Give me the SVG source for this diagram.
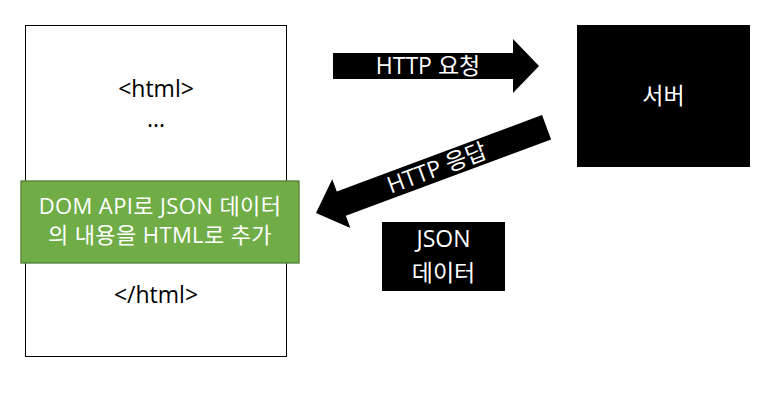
<svg xmlns="http://www.w3.org/2000/svg" width="780" height="402" viewBox="0 0 780 402">
  <style>
    text { font-family: "Open Sans", "Noto Sans CJK KR", sans-serif; font-size: 23px; text-anchor: middle; }
    .dark { fill: #000000; }
    .light { fill: #ffffff; }
    .green-text { font-size: 22px; letter-spacing: 0.4px; }
    .arrow { fill: #000000; }
  </style>
  <rect x="0" y="0" width="780" height="402" fill="#ffffff"/>
  <g id="page">
    <rect x="25.5" y="25.5" width="261" height="331" fill="#ffffff" stroke="#000000" stroke-width="1"/>
    <text class="dark" x="156" y="97">&lt;html&gt;</text>
    <text class="dark" x="156" y="127">...</text>
    <text class="dark" x="156" y="303">&lt;/html&gt;</text>
  </g>
  <g id="dom-api">
    <rect x="21" y="181" width="278" height="82" fill="#70AD47" stroke="#507E32" stroke-width="1.3"/>
    <text class="light green-text" x="160" y="214">DOM API로 JSON 데이터</text>
    <text class="light green-text" x="160" y="243">의 내용을 HTML로 추가</text>
  </g>
  <g id="server">
    <rect x="577" y="25" width="173" height="142" fill="#000000"/>
    <text class="light" x="663.5" y="104">서버</text>
  </g>
  <g id="json-data">
    <rect x="382" y="222" width="123" height="69" fill="#000000"/>
    <text class="light" x="443.5" y="247">JSON</text>
    <text class="light" x="443.5" y="281">데이터</text>
  </g>
  <g id="connectors">
    <g id="http-request">
      <polygon class="arrow" points="333,53 513,53 513,39 539,66 513,93 513,79 333,79"/>
      <text class="light" x="428" y="74">HTTP 요청</text>
    </g>
    <g id="http-response" transform="translate(316,213) rotate(-20.4)">
      <polygon class="arrow" points="0,0 27,-26 27,-13 246,-13 246,13 27,13 27,26"/>
      <text class="light" x="129" y="8">HTTP 응답</text>
    </g>
  </g>
</svg>
